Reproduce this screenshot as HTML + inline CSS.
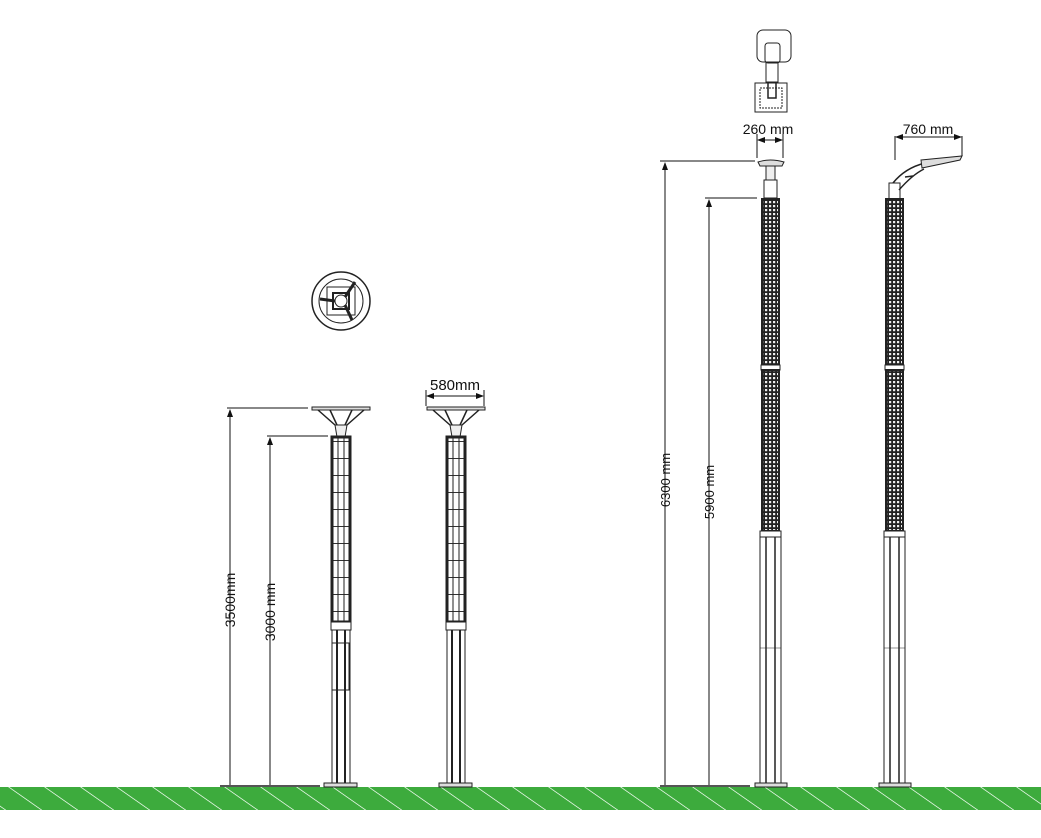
<!DOCTYPE html>
<html><head><meta charset="utf-8"><style>
html,body{margin:0;padding:0;background:#fff;width:1041px;height:838px;overflow:hidden}
svg{display:block}
text{font-family:"Liberation Sans",sans-serif;fill:#111}
</style></head><body>
<svg width="1041" height="838" viewBox="0 0 1041 838" xmlns="http://www.w3.org/2000/svg">
<defs>
<pattern id="stripes" width="36" height="24" patternUnits="userSpaceOnUse" patternTransform="skewX(55)">
<rect width="36" height="24" fill="#3dab3d"/><rect x="0" width="1.5" height="24" fill="#d8f0d8"/>
</pattern>
<pattern id="grid" width="4" height="4" patternUnits="userSpaceOnUse">
<rect width="4" height="4" fill="#222"/><rect x="1" y="1" width="2.2" height="2.2" fill="#eee"/>
</pattern>
<pattern id="cells" width="17" height="17" patternUnits="userSpaceOnUse">
<rect width="17" height="17" fill="#fff"/><rect x="0" y="16" width="17" height="1" fill="#333"/>
</pattern>
<marker id="a" markerWidth="8" markerHeight="6" refX="7" refY="3" orient="auto"><path d="M0,0L8,3L0,6z" fill="#111"/></marker>
</defs>

<rect x="0" y="787" width="1041" height="23" fill="url(#stripes)"/>

<g stroke="#111" stroke-width="1" fill="none">
<line x1="227" y1="408" x2="308" y2="408"/>
<line x1="230" y1="787" x2="230" y2="410" marker-end="url(#a)"/>
<line x1="267" y1="436" x2="328" y2="436"/>
<line x1="270" y1="787" x2="270" y2="438" marker-end="url(#a)"/>
<line x1="426" y1="390" x2="426" y2="406"/><line x1="484" y1="390" x2="484" y2="406"/>
<line x1="455" y1="396" x2="427" y2="396" marker-end="url(#a)"/><line x1="455" y1="396" x2="483" y2="396" marker-end="url(#a)"/>
<line x1="660" y1="161" x2="755" y2="161"/>
<line x1="665" y1="787" x2="665" y2="163" marker-end="url(#a)"/>
<line x1="705" y1="198" x2="757" y2="198"/>
<line x1="709" y1="787" x2="709" y2="200" marker-end="url(#a)"/>
<line x1="757" y1="134" x2="757" y2="158"/><line x1="783" y1="134" x2="783" y2="158"/>
<line x1="770" y1="140" x2="758" y2="140" marker-end="url(#a)"/><line x1="770" y1="140" x2="782" y2="140" marker-end="url(#a)"/>
<line x1="895" y1="136" x2="895" y2="160"/><line x1="962" y1="136" x2="962" y2="156"/>
<line x1="928" y1="137" x2="896" y2="137" marker-end="url(#a)"/><line x1="928" y1="137" x2="961" y2="137" marker-end="url(#a)"/>
</g>
<rect x="220" y="785" width="100" height="2" fill="#555"/>
<rect x="660" y="785" width="90" height="2" fill="#555"/>

<text x="0" y="0" font-size="14" transform="translate(235,600) rotate(-90)" text-anchor="middle">3500mm</text>
<text x="0" y="0" font-size="14" transform="translate(275,612) rotate(-90)" text-anchor="middle">3000 mm</text>
<text x="455" y="390" font-size="15" text-anchor="middle">580mm</text>
<text x="0" y="0" font-size="13" transform="translate(670,480) rotate(-90)" text-anchor="middle">6300 mm</text>
<text x="0" y="0" font-size="13" transform="translate(714,492) rotate(-90)" text-anchor="middle">5900 mm</text>
<text x="768" y="134" font-size="14" text-anchor="middle">260 mm</text>
<text x="928" y="134" font-size="14" text-anchor="middle">760 mm</text>

<g stroke="#222" fill="none">
<circle cx="341" cy="301" r="29" stroke-width="1.5"/>
<circle cx="341" cy="301" r="22"/>
<rect x="327" y="287" width="28" height="28"/>
<rect x="333" y="293" width="16" height="16" stroke-width="2"/>
<circle cx="341" cy="301" r="6"/>
<line x1="345" y1="297" x2="355" y2="282" stroke-width="3"/>
<line x1="335" y1="301" x2="320" y2="299" stroke-width="3"/>
<line x1="345" y1="305" x2="352" y2="320" stroke-width="3"/>
</g>

<g id="p1" stroke="#222" fill="none">
<rect x="312" y="407" width="58" height="3" fill="#ddd"/>
<path d="M318 410 L335 425 M364 410 L347 425 M330 410 L337 425 M352 410 L345 425" stroke-width="1.5"/>
<path d="M335 425 L347 425 L345 437 L337 437 Z" fill="#eee"/>
<rect x="332" y="437" width="18" height="185" fill="url(#cells)" stroke-width="3"/>
<line x1="338" y1="437" x2="338" y2="622"/><line x1="344" y1="437" x2="344" y2="622"/>
<rect x="331" y="622" width="20" height="8" fill="#fff"/>
<rect x="332" y="630" width="18" height="153" fill="#fff"/>
<line x1="337" y1="630" x2="337" y2="783" stroke-width="2"/><line x1="345" y1="630" x2="345" y2="783" stroke-width="2"/>
<rect x="324" y="783" width="33" height="4" fill="#ddd"/>
</g>
<rect x="332" y="643" width="17" height="47" fill="none" stroke="#222"/>
<use href="#p1" x="115"/>

<g stroke="#222" fill="none">
<path d="M758 162 Q770 158 784 162 L782 166 L760 166 Z" fill="#ddd"/>
<rect x="766" y="166" width="9" height="14" fill="#eee"/>
<rect x="764" y="180" width="13" height="18" fill="#fff"/>
<rect x="762" y="199" width="17" height="166" fill="url(#grid)" stroke-width="2"/>
<rect x="761" y="365" width="19" height="5" fill="#fff"/>
<rect x="762" y="370" width="17" height="161" fill="url(#grid)" stroke-width="2"/>
<rect x="760" y="531" width="21" height="6" fill="#fff"/>
<rect x="760" y="537" width="21" height="246" fill="#fff"/>
<line x1="766" y1="537" x2="766" y2="783" stroke-width="1.5"/><line x1="775" y1="537" x2="775" y2="783" stroke-width="1.5"/>
<line x1="760" y1="648" x2="781" y2="648" stroke-width="0.6"/>
<rect x="755" y="783" width="32" height="4" fill="#ddd"/>
<rect x="889" y="183" width="11" height="16" fill="#fff"/>
<path d="M893 183 Q905 168 925 163 M899 190 Q912 175 924 169 M905 177 L913 176" stroke-width="1.5"/>
<path d="M921 160 L962 156 L960 160 L922 168 Z" fill="#ddd"/>
<rect x="886" y="199" width="17" height="166" fill="url(#grid)" stroke-width="2"/>
<rect x="885" y="365" width="19" height="5" fill="#fff"/>
<rect x="886" y="370" width="17" height="161" fill="url(#grid)" stroke-width="2"/>
<rect x="884" y="531" width="21" height="6" fill="#fff"/>
<rect x="884" y="537" width="21" height="246" fill="#fff"/>
<line x1="890" y1="537" x2="890" y2="783" stroke-width="1.5"/><line x1="899" y1="537" x2="899" y2="783" stroke-width="1.5"/>
<line x1="884" y1="648" x2="905" y2="648" stroke-width="0.6"/>
<rect x="879" y="783" width="32" height="4" fill="#ddd"/>
<rect x="757" y="30" width="34" height="32" rx="6"/>
<rect x="765" y="43" width="15" height="20" rx="3"/>
<rect x="766" y="62" width="12" height="20"/>
<rect x="755" y="83" width="32" height="29" fill="#fff"/>
<rect x="760" y="88" width="22" height="20" stroke-dasharray="2 1"/>
<path d="M768 82 L768 98 L776 98 L776 82" stroke-width="1.5"/>
</g>
</svg>
</body></html>
